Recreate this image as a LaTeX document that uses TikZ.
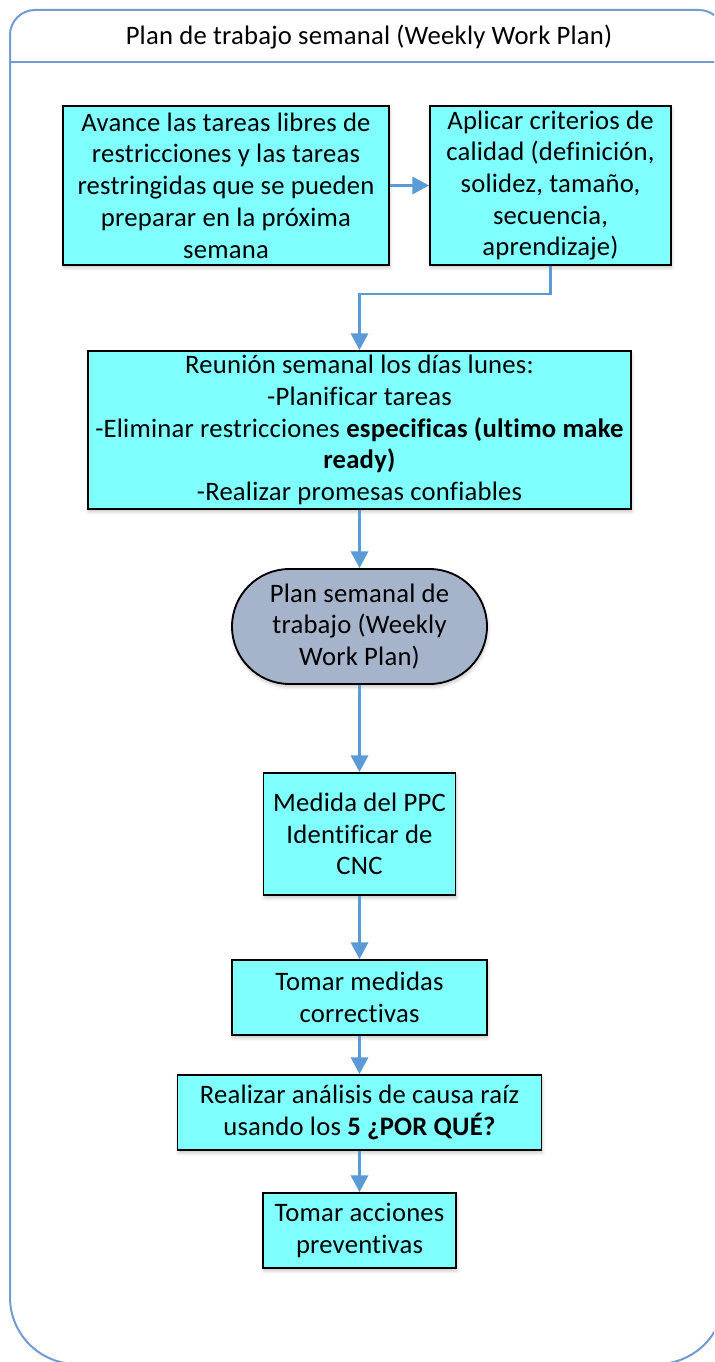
\documentclass[tikz,border=0pt]{standalone}
\usepackage{fontspec}
\setmainfont{Carlito}[LetterSpace=0.8, Ligatures=NoCommon]
\usetikzlibrary{arrows.meta,shapes.misc,shadows.blur}

\definecolor{laneblue}{HTML}{719BD1}
\definecolor{flowblue}{HTML}{5B9BD5}
\definecolor{taskcyan}{HTML}{80FFFF}
\definecolor{plangray}{HTML}{A6B4CB}

\tikzset{
  x=0.75pt, y=-0.75pt,
  every node/.style={font=\fontsize{20pt}{23.8pt}\selectfont, text=black},
  sz/.style 2 args={minimum width=#1*0.75pt, minimum height=#2*0.75pt},
  softshadow/.style={blur shadow={shadow xshift=0.6pt, shadow yshift=-2.2pt,
      shadow blur steps=6, shadow blur radius=2.5pt, shadow opacity=22}},
  taskbox/.style={draw=black, line width=1.4pt, fill=taskcyan, align=center,
      inner sep=0pt, softshadow},
  planbox/.style={rounded rectangle, draw=black, line width=1.4pt, fill=plangray,
      align=center, inner sep=0pt, softshadow},
  flow/.style={draw=flowblue, line width=1.7pt,
      -{Triangle[length=12.5pt,width=13pt]}},
  lane/.style={draw=laneblue, line width=1.5pt}
}

\begin{document}
\begin{tikzpicture}
  \clip (0,0) rectangle (714,1362);

  % swimlane frame with its heading
  \draw[lane] (10,700) [rounded corners=18.75pt] -- (10,10) -- (724,10) -- (724,700)
        [rounded corners=50pt] -- (724,1364) -- (10,1364) -- cycle;
  \draw[lane] (10,62) -- (724,62);
  \node (title) at (369,37) {Plan de trabajo semanal (Weekly Work Plan)};

  % process steps
  \node[taskbox, sz={326}{159}] (avance) at (226,185.5)
    {Avance las tareas libres de\\restricciones y las tareas\\restringidas que se pueden\\preparar en la próxima\\semana};
  \node[taskbox, sz={241}{159}] (criterios) at (550.5,185.5)
    {Aplicar criterios de\\calidad (definición,\\solidez, tamaño,\\secuencia,\\aprendizaje)};
  \node[taskbox, sz={543}{158}] (reunion) at (359.5,430)
    {Reunión semanal los días lunes:\\-Planificar tareas\\-Eliminar restricciones \textbf{especificas (ultimo make}\\\textbf{ready)}\\-Realizar promesas confiables};
  \node[planbox, sz={255}{115}] (plan) at (359.5,626.5)
    {Plan semanal de\\trabajo (Weekly\\Work Plan)};
  \node[taskbox, sz={192}{122}] (ppc) at (359.5,834)
    {Medida del PPC\\Identificar de\\CNC};
  \node[taskbox, sz={255}{75}] (correctivas) at (359.5,997.5)
    {Tomar medidas\\correctivas};
  \node[taskbox, sz={364}{75}] (causa) at (359.5,1112.5)
    {Realizar análisis de causa raíz\\usando los \textbf{5 ¿POR QUÉ?}};
  \node[taskbox, sz={193}{75}] (preventivas) at (359.5,1230.5)
    {Tomar acciones\\preventivas};

  % connectors
  \draw[flow] (avance.east) -- (criterios.west);
  \draw[flow] (criterios.south) -- ++(0,28) -| (reunion.north);
  \draw[flow] (reunion.south) -- (plan.north);
  \draw[flow] (plan.south) -- (ppc.north);
  \draw[flow] (ppc.south) -- (correctivas.north);
  \draw[flow] (correctivas.south) -- (causa.north);
  \draw[flow] (causa.south) -- (preventivas.north);
\end{tikzpicture}
\end{document}
